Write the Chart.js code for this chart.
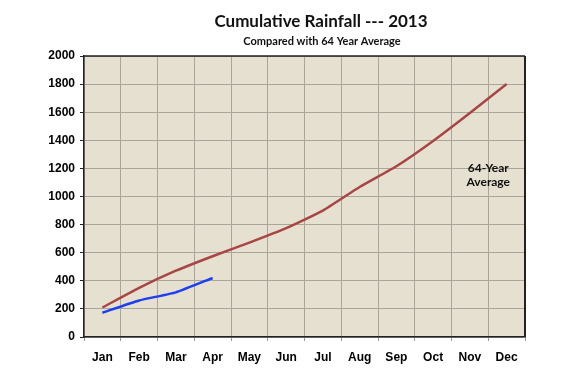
<!DOCTYPE html>
<html>
<head>
<meta charset="utf-8">
<script src="https://cdn.jsdelivr.net/npm/chart.js@4"></script>
<style>
  html, body { margin: 0; padding: 0; background: #fff; }
  #wrap { width: 575px; height: 386px; }
</style>
</head>
<body>
<div id="wrap"><canvas id="rain"></canvas></div>
<script>
// months on the x axis
var months = ['Jan', 'Feb', 'Mar', 'Apr', 'May', 'Jun', 'Jul', 'Aug', 'Sep', 'Oct', 'Nov', 'Dec'];
// 64 year average, cumulative
var average64 = [210, 350, 472, 575, 672, 775, 900, 1068, 1215, 1395, 1594, 1800];
// 2013 so far
var rain2013 = [173, 260, 318, 420, null, null, null, null, null, null, null, null];
var yTicks = [0, 200, 400, 600, 800, 1000, 1200, 1400, 1600, 1800, 2000];
var titleText = 'Cumulative Rainfall --- 2013';
var subtitleText = 'Compared with 64 Year Average';
var noteLines = ['64-Year', 'Average'];

var tickFont = { family: "'Liberation Sans', Arial, sans-serif", size: 12, weight: 'bold' };

// beige plot area, the frame round it, titles and the side note
var plotFrame = {
  id: 'plotFrame',
  beforeDraw: function (chart) {
    var a = chart.chartArea;
    var ctx = chart.ctx;
    ctx.save();
    ctx.fillStyle = '#e5e0cf';
    ctx.fillRect(a.left, a.top, a.right - a.left, a.bottom - a.top);
    ctx.restore();
  },
  afterDraw: function (chart) {
    var a = chart.chartArea;
    var ctx = chart.ctx;
    ctx.save();
    ctx.strokeStyle = '#222';
    ctx.lineWidth = 1.5;
    ctx.beginPath();
    ctx.moveTo(a.left, a.top);
    ctx.lineTo(a.right, a.top);
    ctx.stroke();
    ctx.lineWidth = 2;
    ctx.beginPath();
    ctx.moveTo(a.right, a.top);
    ctx.lineTo(a.right, a.bottom);
    ctx.stroke();

    // titles sit a bit right of the plot centre, as in the original
    ctx.fillStyle = '#111';
    ctx.textAlign = 'center';
    ctx.textBaseline = 'middle';
    ctx.font = "bold 17px Lato, 'Open Sans', sans-serif";
    ctx.fillText(titleText, 321, 22);
    ctx.font = "bold 11px Lato, 'Open Sans', sans-serif";
    ctx.fillText(subtitleText, 322, 41);

    // note next to the average line
    var x = chart.scales.x;
    var y = chart.scales.y;
    var cx = (x.getPixelForValue(10) + x.getPixelForValue(11)) / 2;
    ctx.font = "bold 12px Lato, 'Open Sans', sans-serif";
    ctx.fillText(noteLines[0], cx, y.getPixelForValue(1200));
    ctx.fillText(noteLines[1], cx, y.getPixelForValue(1100));
    ctx.restore();
  }
};

new Chart(document.getElementById('rain'), {
  type: 'line',
  data: {
    labels: months,
    datasets: [
      {
        label: '64 Year Average',
        data: average64,
        borderColor: '#a84646',
        borderWidth: 2.5,
        pointRadius: 0,
        tension: 0.15
      },
      {
        label: '2013',
        data: rain2013,
        borderColor: '#1c3ff2',
        borderWidth: 2.5,
        pointRadius: 0,
        tension: 0.15
      }
    ]
  },
  options: {
    responsive: true,
    maintainAspectRatio: false,
    animation: false,
    layout: { padding: { left: 0, right: 50, top: 56, bottom: 11 } },
    plugins: {
      legend: { display: false },
      tooltip: { enabled: false }
    },
    scales: {
      x: {
        offset: true,
        grid: { offset: true, color: '#a9a59a', lineWidth: 1, tickLength: 4, tickColor: '#999' },
        border: { color: '#222', width: 1.5 },
        ticks: { color: '#000', font: tickFont, padding: 9 },
        afterFit: function (s) { s.height = 38; }
      },
      y: {
        min: 0,
        max: 2000,
        afterBuildTicks: function (s) {
          s.ticks = yTicks.map(function (v) { return { value: v }; });
        },
        grid: { color: '#a9a59a', lineWidth: 1, tickLength: 4, tickColor: '#222' },
        border: { color: '#222', width: 1.5 },
        ticks: {
          color: '#000',
          font: tickFont,
          padding: 5,
          callback: function (v) { return String(v); }
        },
        afterFit: function (s) { s.width = 84; }
      }
    }
  },
  plugins: [plotFrame]
});
</script>
</body>
</html>
